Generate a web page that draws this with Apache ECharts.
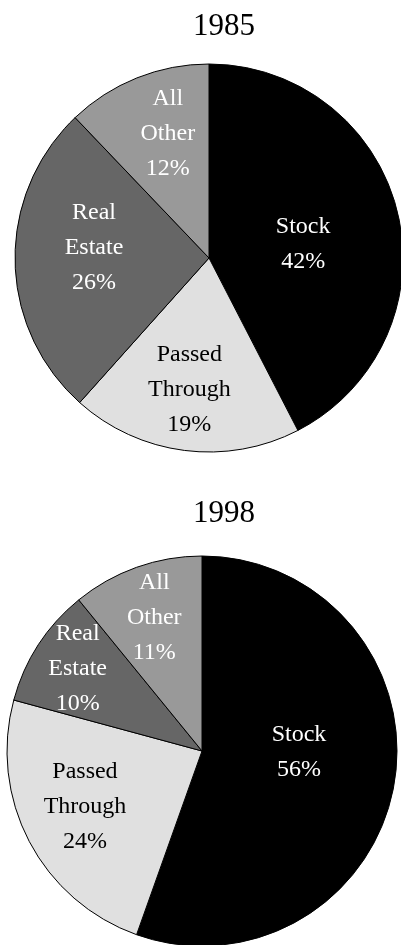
<!DOCTYPE html>
<html>
<head>
<meta charset="utf-8">
<script src="https://cdn.jsdelivr.net/npm/echarts@6/dist/echarts.min.js"></script>
<style>
html,body{margin:0;padding:0;background:#fff;}
#chart{width:401px;height:945px;}
</style>
</head>
<body>
<div id="chart"></div>
<script>
const categories = ['Stock', 'Passed\nThrough', 'Real\nEstate', 'All\nOther'];
const years = ['1985', '1998'];
const values1985 = [42, 19, 26, 12];
const values1998 = [56, 24, 10, 11];

const sliceColors = ['#000000', '#e0e0e0', '#666666', '#999999'];
const labelColors = ['#ffffff', '#000000', '#ffffff', '#ffffff'];
const labelShift1985 = [[-3, 10], [-7, 33], [-15, -12], [-4, -31]];
const labelShift1998 = [[-2, -16], [-28, 9], [-40, -28], [-14, -39]];

const FONT = '"Liberation Serif", "Times New Roman", serif';

function buildData(values, shifts) {
  return categories.map((name, i) => ({
    name: name,
    value: values[i],
    itemStyle: { color: sliceColors[i] },
    label: { color: labelColors[i], offset: shifts[i] }
  }));
}

function pieSeries(values, shifts, center, r) {
  return {
    type: 'pie',
    center: center,
    radius: [0, r],
    startAngle: 90,
    clockwise: true,
    animation: false,
    silent: true,
    itemStyle: { borderColor: '#000', borderWidth: 1 },
    label: {
      show: true,
      position: 'inner',
      fontFamily: FONT,
      fontSize: 24,
      lineHeight: 35,
      align: 'center',
      formatter: p => p.name + '\n' + p.value + '%'
    },
    labelLine: { show: false },
    emphasis: { disabled: true },
    data: buildData(values, shifts)
  };
}

const chart = echarts.init(document.getElementById('chart'), null, { renderer: 'canvas' });
chart.setOption({
  backgroundColor: '#ffffff',
  title: [
    { text: years[0], left: 219, top: 6, textAlign: 'center',
      textStyle: { fontFamily: FONT, fontSize: 31, fontWeight: 'normal', color: '#000', lineHeight: 31 } },
    { text: years[1], left: 219, top: 493, textAlign: 'center',
      textStyle: { fontFamily: FONT, fontSize: 31, fontWeight: 'normal', color: '#000', lineHeight: 31 } }
  ],
  series: [
    pieSeries(values1985, labelShift1985, [209, 258], 194),
    pieSeries(values1998, labelShift1998, [202, 751], 195)
  ]
});
</script>
</body>
</html>
